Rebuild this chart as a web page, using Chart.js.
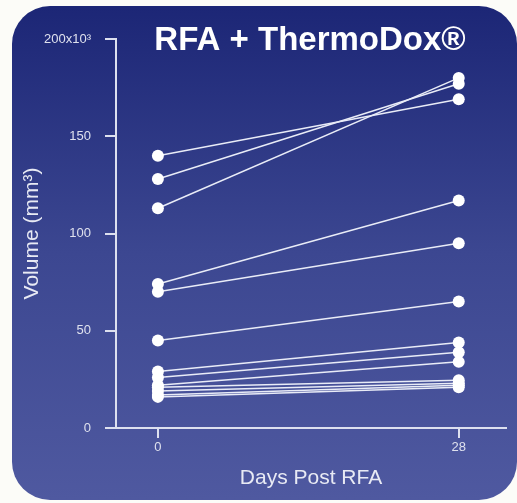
<!DOCTYPE html>
<html>
<head>
<meta charset="utf-8">
<script src="https://cdn.jsdelivr.net/npm/chart.js@4"></script>
<style>
  html, body { margin: 0; padding: 0; background: #fcfcf8; }
  #wrap { width: 517px; height: 503px; }
</style>
</head>
<body>
<div id="wrap"><canvas id="chart" width="517" height="503"></canvas></div>
<script>
// data (volume, x10^3 mm3)
const days = [0, 28];
const volDay0  = [140, 128, 113, 74, 70, 45, 29, 26, 22, 21, 19, 17, 16];
const volDay28 = [169, 177, 180, 117, 95, 65, 44, 39, 34, 24.5, 23, 22, 21];
const yTicks = [0, 50, 100, 150, 200];
const titleText = 'RFA + ThermoDox®';

const FONT = '"Liberation Sans", Arial, sans-serif';
const axisColor = '#dde0ef';
const lineColor = '#e9ecf7';

// rounded blue panel behind everything + title on top
const panel = {
    id: 'panel',
    beforeDraw(chart) {
        const ctx = chart.ctx;
        ctx.save();
        ctx.fillStyle = '#fcfcf8';
        ctx.fillRect(0, 0, chart.width, chart.height);
        const g = ctx.createLinearGradient(0, 6, 0, 500);
        g.addColorStop(0, '#1c2676');
        g.addColorStop(0.5, '#3c4791');
        g.addColorStop(1, '#4f59a0');
        ctx.beginPath();
        ctx.roundRect(12, 6, 505, 494, 38);
        ctx.fillStyle = g;
        ctx.fill();
        ctx.restore();
    },
    afterDraw(chart) {
        const ctx = chart.ctx;
        ctx.save();
        ctx.font = 'bold 33px ' + FONT;
        ctx.fillStyle = '#ffffff';
        ctx.textAlign = 'center';
        ctx.textBaseline = 'middle';
        ctx.fillText(titleText, 310, 41);
        ctx.restore();
    }
};

const datasets = volDay0.map((v, i) => ({
    data: [{ x: days[0], y: v }, { x: days[1], y: volDay28[i] }],
    borderColor: lineColor,
    borderWidth: 1.5,
    pointRadius: 6,
    pointBackgroundColor: '#ffffff',
    pointBorderWidth: 0,
    fill: false
}));

new Chart(document.getElementById('chart'), {
    type: 'line',
    data: { datasets: datasets },
    options: {
        responsive: false,
        animation: false,
        events: [],
        layout: { padding: { left: 10, top: 39, right: 11, bottom: 8 } },
        plugins: { legend: { display: false }, tooltip: { enabled: false } },
        scales: {
            x: {
                type: 'linear',
                min: -3.9,
                max: 32.4,
                afterBuildTicks: s => { s.ticks = days.map(v => ({ value: v })); },
                afterFit: s => { s.height = 503 - 428 - 8; },
                border: { display: true, color: axisColor, width: 2 },
                grid: { drawOnChartArea: false, drawTicks: true, tickLength: 10, color: axisColor, lineWidth: 2 },
                ticks: { color: '#dfe1ee', font: { family: FONT, size: 13 }, padding: 2, maxRotation: 0 },
                title: {
                    display: true,
                    text: 'Days Post RFA',
                    color: '#e8eaf4',
                    font: { family: FONT, size: 21 },
                    padding: { top: 0, bottom: 4 }
                }
            },
            y: {
                min: 0,
                max: 200,
                afterBuildTicks: s => { s.ticks = yTicks.map(v => ({ value: v })); },
                afterFit: s => { s.width = 116 - 10; },
                border: { display: true, color: axisColor, width: 2 },
                grid: { drawOnChartArea: false, drawTicks: true, tickLength: 11, color: axisColor, lineWidth: 2 },
                ticks: {
                    color: '#dfe1ee',
                    font: { family: FONT, size: 13 },
                    padding: 14,
                    callback: v => v === 200 ? '200x10³' : String(v)
                },
                title: {
                    display: true,
                    text: 'Volume (mm³)',
                    color: '#e8eaf4',
                    font: { family: FONT, size: 21 },
                    padding: { top: 10, bottom: 0 }
                }
            }
        }
    },
    plugins: [panel]
});
</script>
</body>
</html>
